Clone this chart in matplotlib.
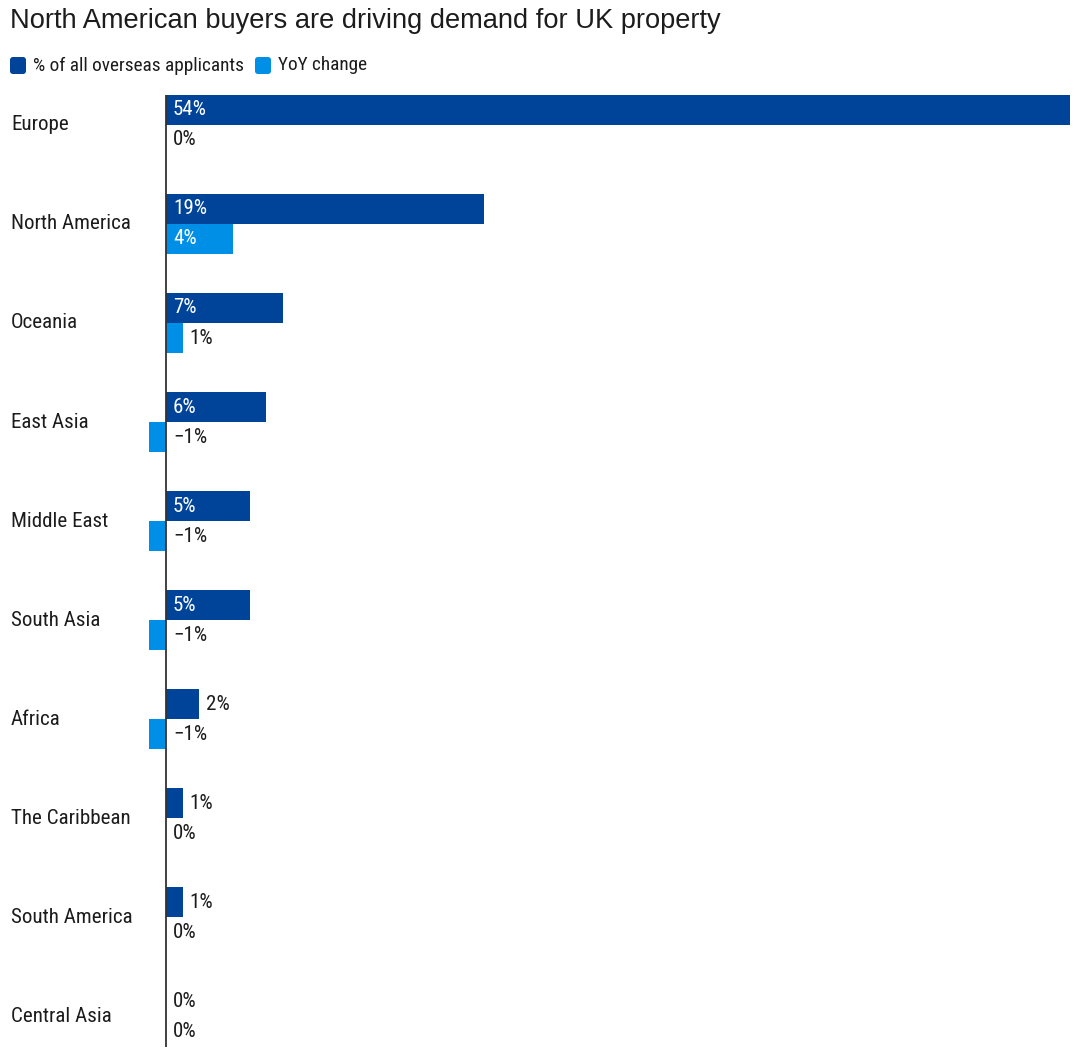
import matplotlib
matplotlib.use("Agg")
import matplotlib.pyplot as plt
from matplotlib import font_manager
from matplotlib.font_manager import FontProperties
from matplotlib.patches import FancyBboxPatch
import matplotlib.transforms as mtransforms

categories = ["Europe", "North America", "Oceania", "East Asia", "Middle East",
              "South Asia", "Africa", "The Caribbean", "South America", "Central Asia"]
share = [54, 19, 7, 6, 5, 5, 2, 1, 1, 0]
yoy = [0, 4, 1, -1, -1, -1, -1, 0, 0, 0]
series_names = ["% of all overseas applicants", "YoY change"]
title = "North American buyers are driving demand for UK property"

DARK = "#00449A"
LIGHT = "#008FE6"
TEXT = "#1c1c1c"

names = {f.name for f in font_manager.fontManager.ttflist}
narrow_props = None
for fam in ["Roboto Condensed", "Liberation Sans Narrow", "Open Sans Condensed", "Noto Sans Condensed"]:
    if fam in names:
        narrow_props = dict(family=[fam, "DejaVu Sans"])
        break
if narrow_props is None:
    found = False
    for fam in ["DejaVu Sans", "Noto Sans", "Roboto", "Open Sans"]:
        try:
            p = font_manager.findfont(FontProperties(family=fam, stretch="condensed"), fallback_to_default=False)
            if "ondensed" in p or "arrow" in p:
                narrow_props = dict(family=[fam, "DejaVu Sans"], fontstretch="condensed")
                found = True
                break
        except Exception:
            pass
    if not found:
        narrow_props = dict(family=["Roboto", "DejaVu Sans"])
TITLEF = ["Liberation Sans", "DejaVu Sans"]

W, H = 1080, 1056
fig = plt.figure(figsize=(W / 100, H / 100), dpi=100)
fig.patch.set_facecolor("white")

renderer = fig.canvas.get_renderer()
probe = fig.text(0, 0, "North America", fontsize=10, **narrow_props)
wprobe = probe.get_window_extent(renderer).width
probe.remove()
FS = 10 * 119.0 / wprobe
FS = min(FS, 15.5)

ax_left, ax_right = 140, 1075
ax_top, ax_bottom = 95, 1047
ax = fig.add_axes([ax_left / W, 1 - ax_bottom / H, (ax_right - ax_left) / W, (ax_bottom - ax_top) / H])
px_per_unit = (1070 - 166) / 54.0
x0 = -(166 - ax_left) / px_per_unit
x1 = 54 + (ax_right - 1070) / px_per_unit
ax.set_xlim(x0, x1)
ax.set_ylim(9.46, -0.15)
for s in ax.spines.values():
    s.set_visible(False)
ax.set_xticks([])
ax.set_yticks([])

bh = 0.303
idx = list(range(len(categories)))
ax.barh([i for i in idx], share, height=bh, color=DARK, align="center")
ax.barh([i + bh for i in idx], yoy, height=bh, color=LIGHT, align="center")
ax.axvline(0, color="#333333", lw=1.3, zorder=5)

def lab(v, y):
    txt = f"{v}%" if v >= 0 else f"\u2212{abs(v)}%"
    if v >= 3:
        ax.annotate(txt, (0, y), xytext=(5, 0), textcoords="offset points",
                    ha="left", va="center", color="white", fontsize=FS, **narrow_props)
    elif v > 0:
        ax.annotate(txt, (v, y), xytext=(4.5, 0), textcoords="offset points",
                    ha="left", va="center", color=TEXT, fontsize=FS, **narrow_props)
    else:
        ax.annotate(txt, (0, y), xytext=(5, 0), textcoords="offset points",
                    ha="left", va="center", color=TEXT, fontsize=FS, **narrow_props)

for i in idx:
    lab(share[i], i)
    lab(yoy[i], i + bh)

trans = mtransforms.blended_transform_factory(fig.transFigure, ax.transData)
for i, c in enumerate(categories):
    ax.text(11 / W, i + bh / 2, c, transform=trans, ha="left", va="center",
            fontsize=FS, color=TEXT, **narrow_props)

fig.text(10 / W, 1 - 21 / H, title, ha="left", va="center", fontsize=19.6,
         color=TEXT, family=TITLEF)

def legend_item(xpx, color, label):
    p = FancyBboxPatch((xpx / W, 1 - 74 / H), 16 / W, 17 / H,
                       boxstyle="round,pad=0,rounding_size=0.003",
                       transform=fig.transFigure, facecolor=color, edgecolor="none")
    fig.patches.append(p)
    t = fig.text((xpx + 23) / W, 1 - 65.5 / H, label, ha="left", va="center",
                 fontsize=FS * 0.92, color=TEXT, **narrow_props)
    return t

t1 = legend_item(10, DARK, series_names[0])
fig.canvas.draw()
bb = t1.get_window_extent()
legend_item(bb.x1 + 11, LIGHT, series_names[1])

fig.savefig("out.png", dpi=100, facecolor="white")
